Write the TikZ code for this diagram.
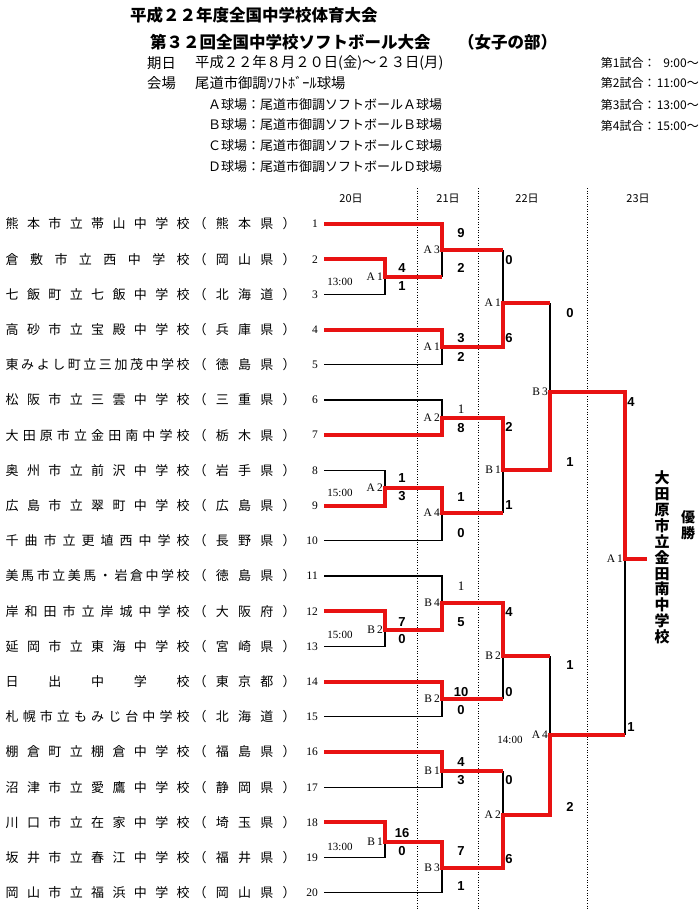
\documentclass[tikz,border=0pt]{standalone}
\usepackage{fontspec}
\setmainfont{Liberation Serif}
\newfontfamily\jp{Noto Sans CJK JP}
\newfontfamily\scf{Liberation Sans}
\definecolor{wred}{RGB}{232,18,18}
\newcommand\spreadbox[2]{\edef\sptmp{#2}\hbox to #1{\expandafter\spreadfirst\sptmp\relax}}
\def\spreadfirst#1{#1\spreadrest}
\def\spreadrest#1{\ifx\relax#1\else\hfil#1\expandafter\spreadrest\fi}
\begin{document}
\begin{tikzpicture}[x=1pt,y=-1pt,
  lose/.style={line width=1.3pt,black},
  win/.style={line width=4pt,wred},
  dayline/.style={line width=0.9pt,dash pattern=on 1pt off 1.6pt},
  num/.style={font=\fontsize{11.5}{12}\selectfont,anchor=east,inner sep=0},
  mlabel/.style={font=\fontsize{11.5}{12}\selectfont,anchor=east,inner sep=0},
  tlabel/.style={font=\fontsize{11}{12}\selectfont,inner sep=0},
  score/.style={font=\scf\bfseries\fontsize{13}{14}\selectfont,inner sep=0},
  sscore/.style={font=\fontsize{13}{14}\selectfont,inner sep=0},
  jpname/.style={font=\jp\fontsize{13}{14}\selectfont,inner sep=0,anchor=west},
  hdr/.style={font=\jp\fontsize{14.3}{16}\selectfont,inner sep=0,anchor=west},
  title/.style={font=\jp\bfseries\fontsize{16.5}{18}\selectfont,inner sep=0,anchor=west},
  court/.style={font=\jp\fontsize{13}{15}\selectfont,inner sep=0,anchor=west},
  sched/.style={font=\jp\fontsize{12}{14}\selectfont,inner sep=0,anchor=east},
  day/.style={font=\jp\fontsize{11}{12}\selectfont,inner sep=0}]
\fill[white] (0,0) rectangle (700,916);
\useasboundingbox (0,0) rectangle (700,916);

% header
\node[title] (t1) at (130,15) {平成２２年度全国中学校体育大会};
\node[title] (t2) at (150,42) {第３２回全国中学校ソフトボール大会};
\node[title] (t3) at (458,42) {（女子の部）};
\node[hdr] (h1) at (147,63) {期日};
\node[hdr] (h2) at (195,63) {平成２２年８月２０日(金)～２３日(月)};
\node[hdr] (h3) at (147,83) {会場};
\node[hdr] (h4) at (195,83) {尾道市御調ｿﾌﾄﾎﾞｰﾙ球場};
\node[court] (c1) at (208,105) {Ａ球場：尾道市御調ソフトボールＡ球場};
\node[court] (c2) at (208,125) {Ｂ球場：尾道市御調ソフトボールＢ球場};
\node[court] (c3) at (208,146) {Ｃ球場：尾道市御調ソフトボールＣ球場};
\node[court] (c4) at (208,167) {Ｄ球場：尾道市御調ソフトボールＤ球場};
\node[sched] (g1) at (699,63) {第1試合：\makebox[2.6em][r]{9:00}～};
\node[sched] (g2) at (699,83) {第2試合：\makebox[2.6em][r]{11:00}～};
\node[sched] (g3) at (699,105) {第3試合：\makebox[2.6em][r]{13:00}～};
\node[sched] (g4) at (699,126) {第4試合：\makebox[2.6em][r]{15:00}～};

% day columns
\node[day] (d20) at (351,199) {20日};
\node[day] (d21) at (448,199) {21日};
\node[day] (d22) at (527,199) {22日};
\node[day] (d23) at (638,199) {23日};
\draw[dayline] (417,188) -- (417,910);
\draw[dayline] (478,188) -- (478,910);
\draw[dayline] (587,188) -- (587,910);

% teams
\foreach \ti/\tsch/\tpref in {
 1/熊本市立帯山中学校/熊本県, 2/倉敷市立西中学校/岡山県, 3/七飯町立七飯中学校/北海道,
 4/高砂市立宝殿中学校/兵庫県, 5/東みよし町立三加茂中学校/徳島県, 6/松阪市立三雲中学校/三重県,
 7/大田原市立金田南中学校/栃木県, 8/奥州市立前沢中学校/岩手県, 9/広島市立翠町中学校/広島県,
 10/千曲市立更埴西中学校/長野県, 11/美馬市立美馬・岩倉中学校/徳島県, 12/岸和田市立岸城中学校/大阪府,
 13/延岡市立東海中学校/宮崎県, 14/日出中学校/東京都, 15/札幌市立もみじ台中学校/北海道,
 16/棚倉町立棚倉中学校/福島県, 17/沼津市立愛鷹中学校/静岡県, 18/川口市立在家中学校/埼玉県,
 19/坂井市立春江中学校/福井県, 20/岡山市立福浜中学校/岡山県}{
 \node[num] (n\ti) at (318,{224+(\ti-1)*35.2}) {\ti};
 \node[jpname] (ts\ti) at (5.5,{224+(\ti-1)*35.2}) {\spreadbox{184pt}{\tsch}};
 \node[jpname] (tp\ti) at (193.5,{224+(\ti-1)*35.2}) {\spreadbox{102pt}{（\tpref）}};
 \coordinate (s\ti) at (324,{224+(\ti-1)*35.2});
}

% match junctions
\coordinate (M1) at (385,277); \coordinate (M2) at (385,488);
\coordinate (M3) at (385,630); \coordinate (M4) at (385,842);
\coordinate (N1) at (442,250); \coordinate (N2) at (442,347);
\coordinate (N3) at (442,418); \coordinate (N4) at (442,513);
\coordinate (N5) at (442,603); \coordinate (N6) at (442,699);
\coordinate (N7) at (442,771); \coordinate (N8) at (442,868);
\coordinate (Q1) at (503,303); \coordinate (Q2) at (503,470);
\coordinate (Q3) at (503,656); \coordinate (Q4) at (503,815);
\coordinate (S1) at (550,392); \coordinate (S2) at (550,735);
\coordinate (FF) at (625,559); \coordinate (WW) at (647,559);

% losing branches
\draw[lose] (s3) -| (M1);
\draw[lose] (s5) -| (N2);
\draw[lose] (s6) -| (N3);
\draw[lose] (s8) -| (M2);
\draw[lose] (s10) -| (N4);
\draw[lose] (s11) -| (N5);
\draw[lose] (s13) -| (M3);
\draw[lose] (s15) -| (N6);
\draw[lose] (s17) -| (N7);
\draw[lose] (s19) -| (M4);
\draw[lose] (s20) -| (N8);
\draw[lose] (M1 -| N1) -- (N1);
\draw[lose] (N1 -| Q1) -- (Q1);
\draw[lose] (N4 -| Q2) -- (Q2);
\draw[lose] (N6 -| Q3) -- (Q3);
\draw[lose] (N7 -| Q4) -- (Q4);
\draw[lose] (Q1 -| S1) -- (S1);
\draw[lose] (Q3 -| S2) -- (S2);
\draw[lose] (S2 -| FF) -- (FF);

% winning paths
\draw[win] (s1) -| (N1) -- (N1 -| Q1);
\draw[win] (s2) -| (M1) -- (M1 -| N1);
\draw[win] (s4) -| (N2) -| (Q1) -- (Q1 -| S1);
\draw[win] (s7) -| (N3) -| (Q2) -| (S1) -| (FF) -- (WW);
\draw[win] (s9) -| (M2) -| (N4) -- (N4 -| Q2);
\draw[win] (s12) -| (M3) -| (N5) -| (Q3) -- (Q3 -| S2);
\draw[win] (s14) -| (N6) -- (N6 -| Q3);
\draw[win] (s16) -| (N7) -- (N7 -| Q4);
\draw[win] (s18) -| (M4) -| (N8) -| (Q4) -| (S2) -- (S2 -| FF);

% match labels
\node[mlabel] (lM1) at ([xshift=-2pt]M1) {A\kern2pt1};
\node[mlabel] (lM2) at ([xshift=-2pt]M2) {A\kern2pt2};
\node[mlabel] (lM3) at ([xshift=-2pt]M3) {B\kern2pt2};
\node[mlabel] (lM4) at ([xshift=-2pt]M4) {B\kern2pt1};
\node[mlabel] (lN1) at ([xshift=-2pt]N1) {A\kern2pt3};
\node[mlabel] (lN2) at ([xshift=-2pt]N2) {A\kern2pt1};
\node[mlabel] (lN3) at ([xshift=-2pt]N3) {A\kern2pt2};
\node[mlabel] (lN4) at ([xshift=-2pt]N4) {A\kern2pt4};
\node[mlabel] (lN5) at ([xshift=-2pt]N5) {B\kern2pt4};
\node[mlabel] (lN6) at ([xshift=-2pt]N6) {B\kern2pt2};
\node[mlabel] (lN7) at ([xshift=-2pt]N7) {B\kern2pt1};
\node[mlabel] (lN8) at ([xshift=-2pt]N8) {B\kern2pt3};
\node[mlabel] (lQ1) at ([xshift=-2pt]Q1) {A\kern2pt1};
\node[mlabel] (lQ2) at ([xshift=-2pt]Q2) {B\kern2pt1};
\node[mlabel] (lQ3) at ([xshift=-2pt]Q3) {B\kern2pt2};
\node[mlabel] (lQ4) at ([xshift=-2pt]Q4) {A\kern2pt2};
\node[mlabel] (lS1) at ([xshift=-2pt]S1) {B\kern2pt3};
\node[mlabel] (lS2) at ([xshift=-2pt]S2) {A\kern2pt4};
\node[mlabel] (lF) at ([xshift=-2pt]FF) {A\kern2pt1};
\node[tlabel] (tm1) at (340,282) {13:00};
\node[tlabel] (tm2) at (340,493) {15:00};
\node[tlabel] (tm3) at (340,635) {15:00};
\node[tlabel] (tm4) at (340,847) {13:00};
\node[tlabel] (tm5) at (510,740) {14:00};

% scores round 1
\node[score] (a1) at (402,268) {4};  \node[score] (a2) at (402,286) {1};
\node[score] (a3) at (402,478) {1};  \node[score] (a4) at (402,496) {3};
\node[score] (a5) at (402,622) {7};  \node[score] (a6) at (402,639) {0};
\node[score] (a7) at (402,833) {16}; \node[score] (a8) at (402,851) {0};
% round 2
\node[score] (b1) at (461,233) {9};  \node[score] (b2) at (461,268) {2};
\node[score] (b3) at (461,338) {3};  \node[score] (b4) at (461,357) {2};
\node[sscore] (b5) at (461,409) {1}; \node[score] (b6) at (461,428) {8};
\node[score] (b7) at (461,497) {1};  \node[score] (b8) at (461,533) {0};
\node[sscore] (b9) at (461,586) {1}; \node[score] (b10) at (461,622) {5};
\node[score] (b11) at (461,692) {10}; \node[score] (b12) at (461,710) {0};
\node[score] (b13) at (461,762) {4}; \node[score] (b14) at (461,780) {3};
\node[score] (b15) at (461,851) {7}; \node[score] (b16) at (461,886) {1};
% quarter finals
\node[score] (q1) at (509,260) {0}; \node[score] (q2) at (509,338) {6};
\node[score] (q3) at (509,427) {2}; \node[score] (q4) at (509,505) {1};
\node[score] (q5) at (509,612) {4}; \node[score] (q6) at (509,692) {0};
\node[score] (q7) at (509,780) {0}; \node[score] (q8) at (509,859) {6};
% semi finals
\node[score] (r1) at (570,313) {0}; \node[score] (r2) at (570,462) {1};
\node[score] (r3) at (570,665) {1}; \node[score] (r4) at (570,807) {2};
% final
\node[score] (f1) at (631,402) {4}; \node[score] (f2) at (631,727) {1};

% champion
\node[font=\jp\bfseries\fontsize{15}{15.9}\selectfont,align=center,inner sep=0] (champ) at (662,557.5)
 {大\\田\\原\\市\\立\\金\\田\\南\\中\\学\\校};
\node[font=\jp\bfseries\fontsize{14}{16}\selectfont,align=center,inner sep=0] (yusho) at (688,525) {優\\勝};
\end{tikzpicture}
\end{document}
